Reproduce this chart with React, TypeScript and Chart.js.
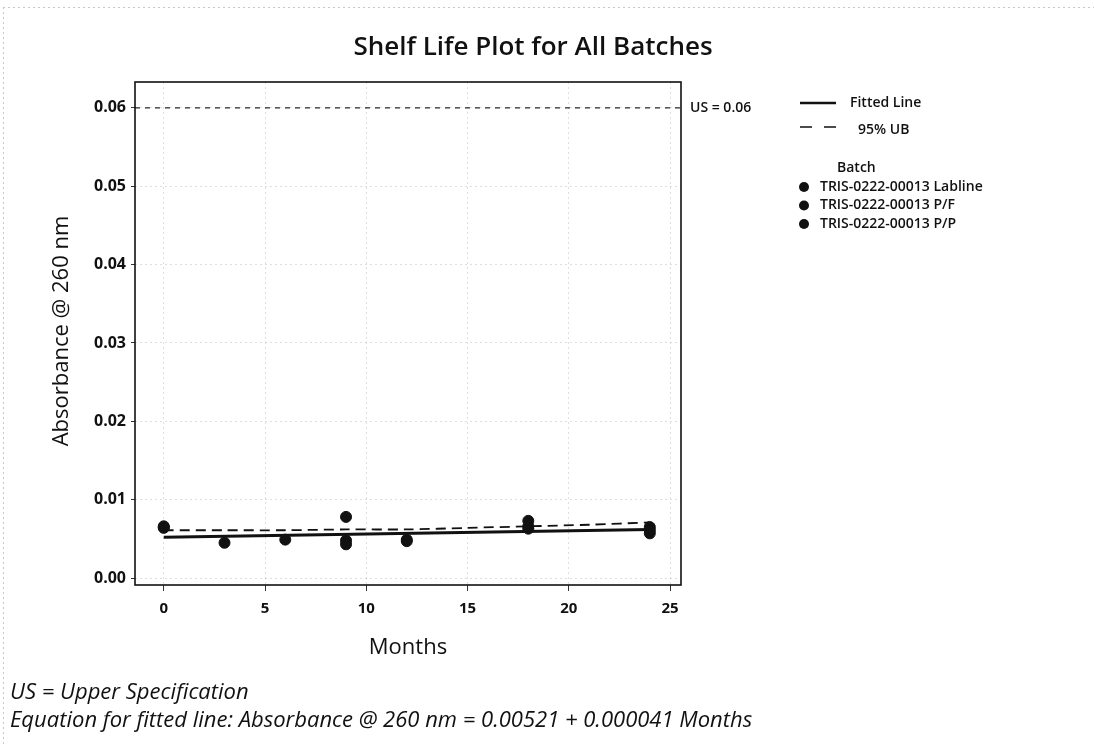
import React, { useEffect, useRef } from "react";
import { Chart, registerables } from "chart.js";

Chart.register(...registerables);

const chartTitle = "Shelf Life Plot for All Batches";
const xAxisTitle = "Months";
const yAxisTitle = "Absorbance @ 260 nm";
const xTicks = [0, 5, 10, 15, 20, 25];
const yTicks = [0, 0.01, 0.02, 0.03, 0.04, 0.05, 0.06];
const upperSpec = 0.06;
const usLabel = "US = 0.06";
const footnotes = [
  "US = Upper Specification",
  "Equation for fitted line: Absorbance @ 260 nm = 0.00521 + 0.000041 Months",
];

const batchNames = [
  "TRIS-0222-00013 Labline",
  "TRIS-0222-00013 P/F",
  "TRIS-0222-00013 P/P",
];
const lablineMonths = [0, 3, 6, 9, 12, 18, 24];
const lablineValues = [0.0066, 0.0045, 0.0049, 0.0043, 0.0049, 0.0066, 0.0061];
const pfMonths = [0, 9, 12, 18, 24];
const pfValues = [0.0065, 0.0078, 0.0047, 0.0073, 0.0065];
const ppMonths = [0, 9, 18, 24];
const ppValues = [0.0064, 0.0048, 0.0063, 0.0057];

const fitMonths = [0, 24];
const fitValues = [0.00521, 0.00619];
const ubMonths = [0, 3, 6, 9, 12, 15, 18, 21, 24];
const ubValues = [0.0061, 0.0061, 0.0061, 0.0062, 0.0062, 0.0064, 0.0066, 0.0068, 0.0071];

const FONT = "'Open Sans', 'Noto Sans', sans-serif";

const pts = (xs: number[], ys: number[]) => xs.map((x, i) => ({ x, y: ys[i] }));

const textPlugin = {
  id: "textPlugin",
  afterDraw(chart: any) {
    const ctx = chart.ctx as CanvasRenderingContext2D;
    const a = chart.chartArea;
    const yS = chart.scales.y;
    ctx.save();
    // outer dotted frame
    ctx.strokeStyle = "#c8c8c8";
    ctx.lineWidth = 1;
    ctx.setLineDash([2, 3]);
    ctx.beginPath();
    ctx.moveTo(3, 7.5);
    ctx.lineTo(1094, 7.5);
    ctx.moveTo(3.5, 7);
    ctx.lineTo(3.5, 744);
    ctx.stroke();
    ctx.setLineDash([]);
    // plot frame
    ctx.strokeStyle = "#111";
    ctx.lineWidth = 1.6;
    ctx.strokeRect(a.left, a.top, a.right - a.left, a.bottom - a.top);
    // title
    ctx.fillStyle = "#111";
    ctx.textAlign = "center";
    ctx.textBaseline = "middle";
    ctx.font = `600 26px ${FONT}`;
    ctx.fillText(chartTitle, 533, 48);
    // axis titles
    ctx.font = `400 22px ${FONT}`;
    ctx.fillText(xAxisTitle, 408, 648);
    ctx.save();
    ctx.translate(62, 331);
    ctx.rotate(-Math.PI / 2);
    ctx.fillText(yAxisTitle, 0, 0);
    ctx.restore();
    // US label
    ctx.textAlign = "left";
    ctx.font = `600 14px ${FONT}`;
    ctx.fillText(usLabel, 690, yS.getPixelForValue(upperSpec));
    // legend
    ctx.strokeStyle = "#111";
    ctx.lineWidth = 2.5;
    ctx.beginPath();
    ctx.moveTo(800, 103);
    ctx.lineTo(836, 103);
    ctx.stroke();
    ctx.lineWidth = 1.5;
    ctx.beginPath();
    ctx.moveTo(800, 127);
    ctx.lineTo(812, 127);
    ctx.moveTo(824, 127);
    ctx.lineTo(836, 127);
    ctx.stroke();
    ctx.font = `600 14px ${FONT}`;
    ctx.fillText("Fitted Line", 850, 103);
    ctx.fillText("95% UB", 858, 130);
    ctx.fillText("Batch", 837, 168);
    batchNames.forEach((n, i) => {
      const yy = 187 + i * 18.5;
      ctx.beginPath();
      ctx.arc(804, yy, 5, 0, Math.PI * 2);
      ctx.fill();
      ctx.fillText(n, 820, yy);
    });
    // footnotes
    ctx.font = `italic 400 22px ${FONT}`;
    ctx.fillText(footnotes[0], 10, 693);
    ctx.fillText(footnotes[1], 10, 721);
    ctx.restore();
  },
};

export default function App() {
  const ref = useRef<HTMLCanvasElement>(null);
  useEffect(() => {
    if (!ref.current) return;
    const pointStyle = {
      type: "scatter" as const,
      backgroundColor: "#111",
      borderColor: "#111",
      pointRadius: 5.5,
      showLine: false,
      order: 0,
    };
    const chart = new Chart(ref.current, {
      type: "scatter",
      data: {
        datasets: [
          { ...pointStyle, label: batchNames[0], data: pts(lablineMonths, lablineValues) },
          { ...pointStyle, label: batchNames[1], data: pts(pfMonths, pfValues) },
          { ...pointStyle, label: batchNames[2], data: pts(ppMonths, ppValues) },
          {
            type: "line",
            label: "Fitted Line",
            data: pts(fitMonths, fitValues),
            borderColor: "#111",
            borderWidth: 3,
            pointRadius: 0,
            order: 1,
          },
          {
            type: "line",
            label: "95% UB",
            data: pts(ubMonths, ubValues),
            borderColor: "#111",
            borderWidth: 1.8,
            borderDash: [10, 6],
            pointRadius: 0,
            tension: 0.3,
            order: 2,
          },
          {
            type: "line",
            label: "US",
            data: [
              { x: -1.42, y: upperSpec },
              { x: 25.54, y: upperSpec },
            ],
            borderColor: "#222",
            borderWidth: 1.2,
            borderDash: [5, 5],
            pointRadius: 0,
            order: 3,
          },
        ],
      },
      options: {
        animation: false,
        responsive: false,
        maintainAspectRatio: false,
        layout: { padding: { top: 82, right: 413, left: 0, bottom: 0 } },
        plugins: { legend: { display: false }, title: { display: false }, tooltip: { enabled: false } },
        scales: {
          x: {
            type: "linear",
            min: -1.42,
            max: 25.54,
            afterBuildTicks: (s: any) => {
              s.ticks = xTicks.map((v) => ({ value: v }));
            },
            afterFit: (s: any) => {
              s.height = 159;
            },
            ticks: {
              color: "#111",
              font: { family: FONT, size: 15, weight: "bold" },
              padding: 9,
              callback: (v: any) => String(v),
            },
            grid: { color: "rgba(0,0,0,0.13)", tickColor: "#333", tickLength: 6, lineWidth: 1 },
            border: { display: false, dash: [2, 3] },
          },
          y: {
            type: "linear",
            min: -0.00089,
            max: 0.0633,
            afterBuildTicks: (s: any) => {
              s.ticks = yTicks.map((v) => ({ value: v }));
            },
            afterFit: (s: any) => {
              s.width = 135;
            },
            ticks: {
              color: "#111",
              font: { family: FONT, size: 16, weight: "bold" },
              padding: 5,
              callback: (v: any) => Number(v).toFixed(2),
            },
            grid: { color: "rgba(0,0,0,0.13)", tickColor: "#333", tickLength: 4, lineWidth: 1 },
            border: { display: false, dash: [2, 3] },
          },
        },
      },
      plugins: [textPlugin],
    });
    return () => chart.destroy();
  }, []);
  return (
    <div style={{ position: "absolute", left: 0, top: 0, width: 1094, height: 744, background: "#fff" }}>
      <canvas ref={ref} width={1094} height={744} style={{ width: 1094, height: 744, display: "block" }} />
    </div>
  );
}
